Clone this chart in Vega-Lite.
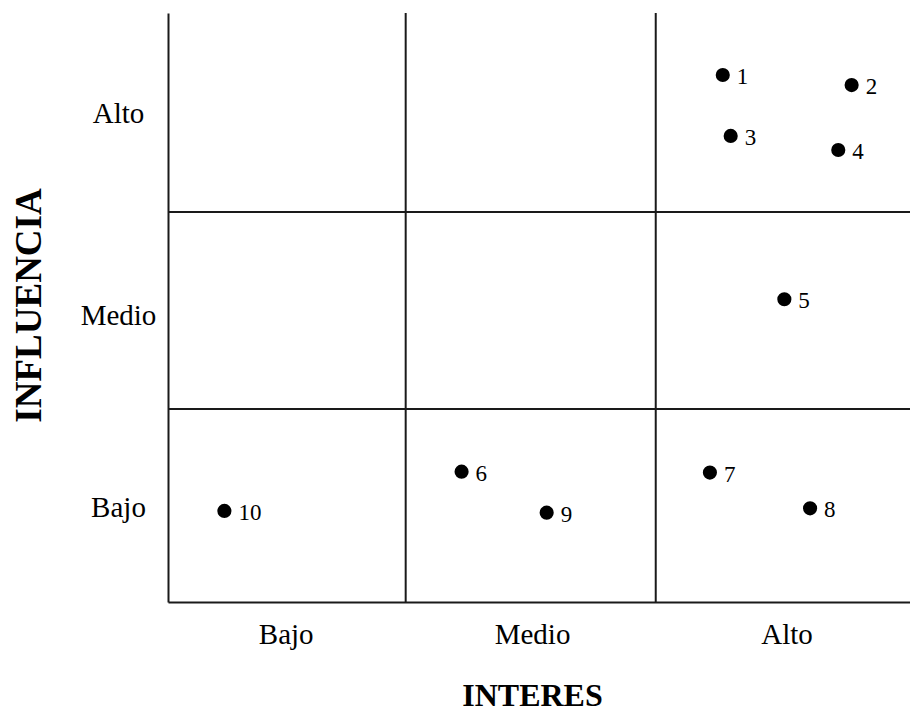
{
  "$schema": "https://vega.github.io/schema/vega-lite/v6.json",
  "autosize": {"type": "none"},
  "padding": {"left": 168, "top": 13, "right": 0, "bottom": 111},
  "width": 742,
  "height": 589,
  "background": "white",
  "config": {
    "view": {"stroke": null},
    "font": "Liberation Serif"
  },
  "datasets": {
    "points": [
      {"id": "1", "interes": 2.243, "influencia": 2.684},
      {"id": "2", "interes": 2.764, "influencia": 2.633},
      {"id": "3", "interes": 2.275, "influencia": 2.374},
      {"id": "4", "interes": 2.710, "influencia": 2.302},
      {"id": "5", "interes": 2.492, "influencia": 1.542},
      {"id": "6", "interes": 1.187, "influencia": 0.664},
      {"id": "7", "interes": 2.191, "influencia": 0.659},
      {"id": "8", "interes": 2.596, "influencia": 0.477},
      {"id": "9", "interes": 1.531, "influencia": 0.455},
      {"id": "10", "interes": 0.228, "influencia": 0.464}
    ],
    "vlines": [{"pos": 0.961}, {"pos": 1.972}],
    "hlines": [{"pos": 0.983}, {"pos": 1.986}]
  },
  "layer": [
    {
      "data": {"name": "vlines"},
      "mark": {"type": "rule", "color": "#1a1a1a", "strokeWidth": 2},
      "encoding": {
        "x": {"field": "pos", "type": "quantitative", "scale": {"domain": [0, 3], "nice": false, "zero": false},
          "axis": {
            "values": [0.476, 1.472, 2.501],
            "labelExpr": "datum.value < 1 ? 'Bajo' : datum.value < 2 ? 'Medio' : 'Alto'",
            "grid": false, "ticks": false, "tickSize": 0,
            "domain": true, "domainColor": "#1a1a1a", "domainWidth": 2,
            "labelFont": "Liberation Serif", "labelFontSize": 29, "labelColor": "black",
            "labelPadding": 18, "labelAlign": "center",
            "title": "INTERES", "titleFont": "Liberation Serif", "titleFontSize": 32, "titleFontWeight": "bold", "titleColor": "black",
            "titleBaseline": "alphabetic", "titleX": 364, "titleY": 103, "titleAnchor": "start", "titleAlign": "center"
          }
        }
      }
    },
    {
      "data": {"name": "hlines"},
      "mark": {"type": "rule", "color": "#1a1a1a", "strokeWidth": 2},
      "encoding": {
        "y": {"field": "pos", "type": "quantitative", "scale": {"domain": [0, 3], "nice": false, "zero": false},
          "axis": {
            "values": [0.481, 1.46, 2.486],
            "labelExpr": "datum.value < 1 ? 'Bajo' : datum.value < 2 ? 'Medio' : 'Alto'",
            "grid": false, "ticks": false, "tickSize": 0,
            "domain": true, "domainColor": "#1a1a1a", "domainWidth": 2,
            "labelFont": "Liberation Serif", "labelFontSize": 29, "labelColor": "black",
            "labelPadding": 50, "labelAlign": "center", "labelBaseline": "middle",
            "title": "INFLUENCIA", "titleFont": "Liberation Serif", "titleFontSize": 37, "titleFontWeight": "bold", "titleColor": "black",
            "titleBaseline": "alphabetic", "titleX": -128, "titleY": 292, "titleAngle": -90, "titleAlign": "center"
          }
        }
      }
    },
    {
      "data": {"name": "points"},
      "mark": {"type": "circle", "color": "black", "opacity": 1, "size": 200},
      "encoding": {
        "x": {"field": "interes", "type": "quantitative"},
        "y": {"field": "influencia", "type": "quantitative"}
      }
    },
    {
      "data": {"name": "points"},
      "mark": {"type": "text", "align": "left", "baseline": "middle", "dx": 14, "dy": 2, "font": "Liberation Serif", "fontSize": 23, "color": "black"},
      "encoding": {
        "x": {"field": "interes", "type": "quantitative"},
        "y": {"field": "influencia", "type": "quantitative"},
        "text": {"field": "id"}
      }
    }
  ]
}
